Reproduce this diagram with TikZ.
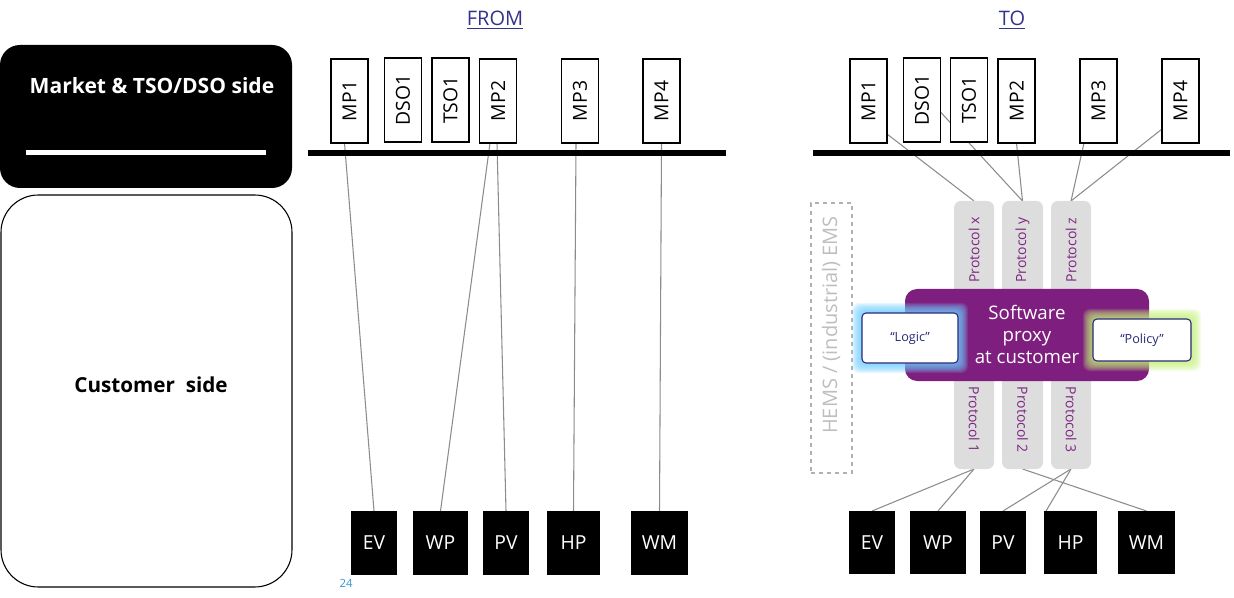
\documentclass[tikz,border=0pt]{standalone}
\usepackage{fontspec}
\setmainfont{Open Sans}
\usetikzlibrary{calc}
\definecolor{titleblue}{RGB}{52,50,140}
\definecolor{linkgray}{RGB}{140,140,140}
\definecolor{protogray}{RGB}{221,221,221}
\definecolor{protopurple}{RGB}{125,38,130}
\definecolor{proxypurple}{RGB}{126,30,126}
\definecolor{navy}{RGB}{40,40,120}
\definecolor{glowblue}{RGB}{110,205,255}
\definecolor{glowgreen}{RGB}{195,240,120}
\definecolor{hemsgray}{RGB}{190,190,190}
\definecolor{pagenum}{RGB}{50,150,210}
\pgfdeclarelayer{lines}
\pgfdeclarelayer{glow}
\pgfdeclarelayer{front}
\pgfsetlayers{lines,main,glow,front}
\begin{document}
\begin{tikzpicture}[x=0.75pt,y=-0.75pt,
  pw/.style={minimum width=#1*0.75pt},
  ph/.style={minimum height=#1*0.75pt},
  tbox/.style={draw=black, line width=0.9pt, fill=white, inner sep=0pt, outer sep=0pt,
    font=\fontsize{14.5}{16}\selectfont, pw=37, ph=84},
  dev/.style={fill=black, text=white, inner sep=0pt, outer sep=0pt,
    font=\fontsize{14.5}{17}\selectfont, ph=64},
  link/.style={draw=linkgray, line width=0.8pt},
  bus/.style={line width=4.5pt, black},
  proto/.style={fill=protogray, rounded corners=5pt, inner sep=0pt, outer sep=0pt, pw=40, ph=268},
  prototext/.style={text=protopurple, font=\fontsize{10.5}{12}\selectfont, inner sep=0pt},
  titletext/.style={text=titleblue, font=\fontsize{15}{18}\selectfont, inner sep=0pt},
  smallbox/.style={draw=navy, line width=0.8pt, fill=white, rounded corners=3pt, inner sep=0pt,
    outer sep=0pt, text=navy, font=\fontsize{9.5}{11}\selectfont}
]
\useasboundingbox (0,0) rectangle (1234,598);

% ---------- left side ----------
\node[fill=black, rounded corners=15pt, pw=292, ph=143, inner sep=0pt] (market) at (146,116.5) {};
\node[text=white, font=\bfseries\fontsize{15.8}{18}\selectfont, inner sep=0pt] (markettext) at (152,86) {Market \& TSO/DSO side};
\draw[white, line width=3.75pt] (26,153) -- (266,153);
\node[draw=black, line width=0.8pt, rounded corners=28pt, pw=291, ph=392, inner sep=0pt] (customer) at (146.5,391) {};
\node[font=\bfseries\fontsize{15.5}{18}\selectfont, inner sep=0pt] (customertext) at (151,385) {Customer\ \ side};

% ---------- FROM ----------
\node[titletext] (fromtitle) at (495,20) {\underline{FROM}};
\draw[bus] (308,153) -- (726,153);
\node[tbox] (fmp1) at (349.5,101) {\rotatebox{90}{MP1}};
\node[tbox] (fdso1) at (403,100) {\rotatebox{90}{DSO1}};
\node[tbox] (ftso1) at (450.5,100) {\rotatebox{90}{TSO1}};
\node[tbox] (fmp2) at (498,101) {\rotatebox{90}{MP2}};
\node[tbox] (fmp3) at (580,101) {\rotatebox{90}{MP3}};
\node[tbox] (fmp4) at (661.5,101) {\rotatebox{90}{MP4}};

\node[dev, pw=46] (fev) at (374,543) {EV};
\node[dev, pw=55] (fwp) at (440.5,543) {WP};
\node[dev, pw=46] (fpv) at (506,543) {PV};
\node[dev, pw=53] (fhp) at (573.5,543) {HP};
\node[dev, pw=57] (fwm) at (659.5,543) {WM};

\begin{pgfonlayer}{lines}
\draw[link] ($(fmp1.south)+(-5,0)$) -- (fev.north);
\draw[link] ($(fmp2.south)+(-8,0)$) -- (fwp.north);
\draw[link] ($(fmp2.south)+(-1,0)$) -- (fpv.north);
\draw[link] ($(fmp3.south)+(-4,0)$) -- (fhp.north);
\draw[link] (fmp4.south) -- (fwm.north);
\end{pgfonlayer}

\node[text=pagenum, font=\fontsize{8.5}{10}\selectfont, inner sep=0pt] (page) at (346,583) {24};

% ---------- TO ----------
\node[titletext] (totitle) at (1012,20) {\underline{TO}};
\draw[bus] (813,153) -- (1230,153);
\node[tbox] (tmp1) at (868.5,101) {\rotatebox{90}{MP1}};
\node[tbox] (tdso1) at (922,100) {\rotatebox{90}{DSO1}};
\node[tbox] (ttso1) at (969,100) {\rotatebox{90}{TSO1}};
\node[tbox] (tmp2) at (1016.5,101) {\rotatebox{90}{MP2}};
\node[tbox] (tmp3) at (1098.5,101) {\rotatebox{90}{MP3}};
\node[tbox] (tmp4) at (1180.5,101) {\rotatebox{90}{MP4}};

\node[draw=hemsgray!80!gray, dashed, line width=0.8pt, pw=41, ph=270, inner sep=0pt] (hems) at (831.5,338) {};
\node[text=hemsgray, rotate=90, font=\fontsize{15}{18}\selectfont, inner sep=0pt] (hemstext) at (831,325) {HEMS / (industrial) EMS};

\node[proto] (px) at (974,335) {};
\node[proto, pw=41] (py) at (1022.5,335) {};
\node[proto] (pz) at (1071,335) {};
\node[prototext, rotate=90] (pxt) at (974,250) {Protocol x};
\node[prototext, rotate=90] (pyt) at (1022.5,250) {Protocol y};
\node[prototext, rotate=90] (pzt) at (1071,250) {Protocol z};
\node[prototext, rotate=-90] (p1t) at (974,420) {Protocol 1};
\node[prototext, rotate=-90] (p2t) at (1022.5,420) {Protocol 2};
\node[prototext, rotate=-90] (p3t) at (1071,420) {Protocol 3};

\node[fill=proxypurple, rounded corners=9pt, pw=244, ph=92, inner sep=0pt] (proxy) at (1027,335) {};
\node[text=white, align=center, font=\fontsize{14}{16.5}\selectfont, inner sep=0pt] (proxytext) at (1027,334) {Software\\proxy\\at customer};

\begin{pgfonlayer}{front}
\node[smallbox, pw=96, ph=50] (logic) at (910,338) {“Logic”};
\node[smallbox, pw=98, ph=42] (policy) at (1142,340) {“Policy”};
\end{pgfonlayer}
\begin{pgfonlayer}{glow}
\foreach \r in {1,...,10}{
  \fill[glowblue, opacity=0.15, rounded corners=5pt] ($(logic.south west)+(-\r,\r)$) rectangle ($(logic.north east)+(\r,-\r)$);
  \fill[glowgreen, opacity=0.15, rounded corners=5pt] ($(policy.south west)+(-\r,\r)$) rectangle ($(policy.north east)+(\r,-\r)$);
}
\end{pgfonlayer}

\node[dev, pw=46, ph=63] (tev) at (872,542.5) {EV};
\node[dev, pw=56, ph=63] (twp) at (938,542.5) {WP};
\node[dev, pw=46, ph=63] (tpv) at (1003,542.5) {PV};
\node[dev, pw=53, ph=63] (thp) at (1070.5,542.5) {HP};
\node[dev, pw=57, ph=63] (twm) at (1146.5,542.5) {WM};

\begin{pgfonlayer}{lines}
\draw[link] ($(tmp1.south east)+(0,-9)$) -- (px.north);
\draw[link] ($(tdso1.east)+(0,12)$) -- (py.north);
\draw[link] (tmp2.south) -- (py.north);
\draw[link] ($(tmp3.south west)+(4,0)$) -- (pz.north);
\draw[link] ($(tmp4.west)+(0,28)$) -- (pz.north);
\draw[link] (px.south) -- (tev.north);
\draw[link] (px.south) -- (twp.north);
\draw[link] (py.south) -- (twm.north);
\draw[link] (pz.south) -- (tpv.north);
\draw[link] (pz.south) -- ($(thp.north west)+(2,0)$);
\end{pgfonlayer}
\end{tikzpicture}
\end{document}
